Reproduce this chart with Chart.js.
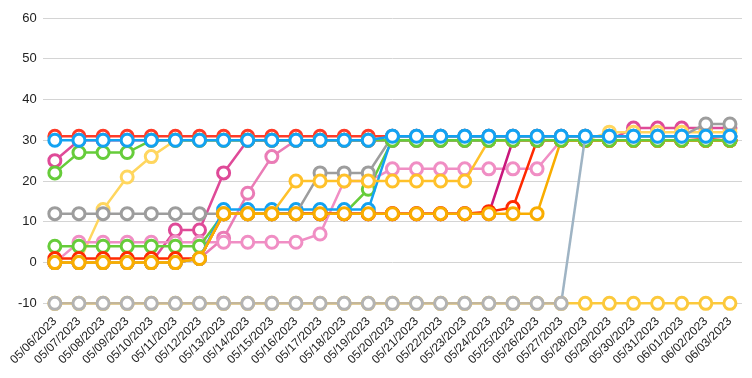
<!DOCTYPE html>
<html lang="en">
  <head>
    <meta charset="UTF-8" />
    <title>Daily values</title>
    <script src="https://cdn.jsdelivr.net/npm/chart.js@4"></script>
    <style>
      html, body { margin: 0; padding: 0; background: #fff; }
      .chart-view { position: relative; width: 752px; height: 378px; }
    </style>
  </head>
  <body>
    <div class="chart-view">
      <canvas id="chart"></canvas>
    </div>

    <script>
      //data
      const labels = [
        '05/06/2023', '05/07/2023', '05/08/2023', '05/09/2023', '05/10/2023', '05/11/2023',
        '05/12/2023', '05/13/2023', '05/14/2023', '05/15/2023', '05/16/2023', '05/17/2023',
        '05/18/2023', '05/19/2023', '05/20/2023', '05/21/2023', '05/22/2023', '05/23/2023',
        '05/24/2023', '05/25/2023', '05/26/2023', '05/27/2023', '05/28/2023', '05/29/2023',
        '05/30/2023', '05/31/2023', '06/01/2023', '06/02/2023', '06/03/2023'
      ];
      const yTicks = [-10, 0, 10, 20, 30, 40, 50, 60];

      const blueTop    = [30,30,30,30,30,30,30,30,30,30,30,30,30,30,31,31,31,31,31,31,31,31,31,31,31,31,31,31,31];
      const grayMid    = [12,12,12,12,12,12,12,12,12,12,12,22,22,22,31,31,31,31,31,31,31,31,31,31,31,31,31,34,34];
      const grayLow    = [-10,-10,-10,-10,-10,-10,-10,-10,-10,-10,-10,-10,-10,-10,-10,-10,-10,-10,-10,-10,-10,-10,31,31,31,31,31,31,31];
      const orangeA    = [0,0,0,0,0,0,1,12,12,12,12,12,12,12,12,12,12,12,12,12,12,30,30,30,30,30,30,30,30];
      const orangeB    = [0,0,0,0,0,0,1,12,12,12,20,20,20,20,20,20,20,20,30,30,30,30,30,30,30,30,30,30,30];
      const blueLow    = [0,0,0,0,0,0,1,13,13,13,13,13,13,13,31,31,31,31,31,31,31,31,31,31,31,31,31,31,31];
      const redLow     = [1,1,1,1,1,1,1,12,12,12,12,12,12,12,12,12,12,12,12.5,13.5,30,30,30,30,30,30,30,30,30];
      const plumLow    = [0,0,0,0,0,0,1,12,12,12,12,12,12,12,12,12,12,12,12,30,30,30,30,30,30,30,30,30,30];
      const greenLow   = [4,4,4,4,4,4,4,12,12,12,12,12,12,18,30,30,30,30,30,30,30,30,30,30,30,30,30,30,30];
      const pinkA      = [0,5,5,5,5,5,5,5,5,5,5,7,20,20,23,23,23,23,23,23,23,30,30,30,30,30,30,30,30];
      const pinkB      = [0,0,0,0,0,0,1,6,17,26,30,30,30,30,30,30,30,30,30,30,30,30,30,30,30,30,30,30,30];
      const magentaLow = [0,0,0,0,0,8,8,22,30,30,30,30,30,30,30,30,30,30,30,30,30,30,30,30,30,30,30,30,30];
      const yellowTop  = [0,0,13,21,26,30,30,30,30,30,30,30,30,30,30,30,30,30,30,30,30,30,30,32,32,32,32,32,32];
      const magentaTop = [25,30,30,30,30,30,30,30,30,30,30,30,30,30,30,30,30,30,30,30,30,30,30,30,33,33,33,33,33];
      const greenTop   = [22,27,27,27,30,30,30,30,30,30,30,30,30,30,30,30,30,30,30,30,30,30,30,30,30,30,30,30,30];
      const redTop     = [31,31,31,31,31,31,31,31,31,31,31,31,31,31,31,31,31,31,31,31,31,31,31,31,31,31,31,30.5,31];
      const yellowLow  = [-10,-10,-10,-10,-10,-10,-10,-10,-10,-10,-10,-10,-10,-10,-10,-10,-10,-10,-10,-10,-10,-10,-10,-10,-10,-10,-10,-10,-10];

      function series(data, color, extra) {
        return Object.assign({
          data: data,
          borderColor: color,
          pointBorderColor: color,
          pointBackgroundColor: '#fff',
          borderWidth: 2.5,
          pointRadius: 6,
          pointBorderWidth: 3,
          tension: 0,
          clip: false
        }, extra || {});
      }

      // first dataset is drawn on top
      const data = {
        labels: labels,
        datasets: [
          series(blueTop, '#12a2f2'),
          series(grayLow, '#b3b3b3', {
            segment: {
              borderColor: c => (c.p1DataIndex === 22 ? '#9fb4c4' : '#c4b698')
            }
          }),
          series(greenTop, '#66cc3a'),
          series(orangeA, '#f9ad00'),
          series(orangeB, '#ffc12a'),
          series(grayMid, '#9d9d9d'),
          series(blueLow, '#12a2f2'),
          series(redLow, '#ff2a00'),
          series(plumLow, '#c9177c'),
          series(greenLow, '#66cc3a'),
          series(pinkA, '#f08ec4'),
          series(pinkB, '#ea7cb6'),
          series(magentaLow, '#df4a98'),
          series(yellowTop, '#ffd65e'),
          series(magentaTop, '#df4a98'),
          series(redTop, '#ff3b28'),
          series(yellowLow, '#fcc93c')
        ]
      };

      //config
      const config = {
        type: 'line',
        data: data,
        options: {
          responsive: true,
          maintainAspectRatio: false,
          animation: false,
          layout: { padding: { left: 12, right: 10, top: 18, bottom: 8 } },
          plugins: {
            legend: { display: false },
            tooltip: { enabled: false }
          },
          scales: {
            x: {
              offset: true,
              grid: { display: false },
              border: { display: false },
              ticks: {
                autoSkip: false,
                minRotation: 45,
                maxRotation: 45,
                color: '#222',
                font: { family: 'Liberation Sans, Arial, sans-serif', size: 12 }
              }
            },
            y: {
              min: yTicks[0],
              max: yTicks[yTicks.length - 1],
              afterBuildTicks: axis => {
                axis.ticks = yTicks.map(v => ({ value: v }));
              },
              grid: { color: '#d4d4d4', drawTicks: false },
              border: { display: false },
              ticks: {
                padding: 6,
                color: '#222',
                font: { family: 'Liberation Sans, Arial, sans-serif', size: 13 }
              }
            }
          }
        }
      };

      //init
      const ctx = document.getElementById('chart');
      const chart = new Chart(ctx, config);
    </script>
  </body>
</html>
